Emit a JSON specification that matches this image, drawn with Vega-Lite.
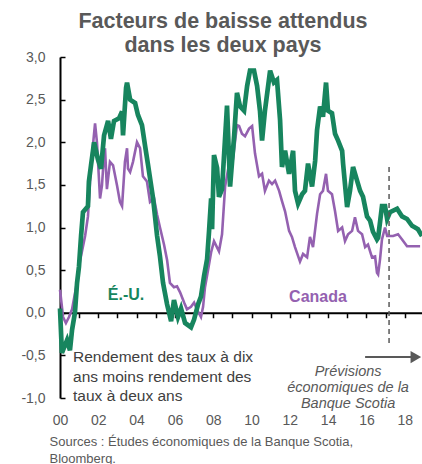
{
  "$schema": "https://vega.github.io/schema/vega-lite/v6.json",
  "autosize": "none",
  "padding": {"left": 60, "top": 57, "right": 0, "bottom": 66},
  "width": 362,
  "height": 341,
  "config": {"view": {"stroke": null}, "font": "Liberation Sans"},
  "title": {"text": ["Facteurs de baisse attendus", "dans les deux pays"], "fontSize": 21.5, "fontWeight": "bold", "color": "#595959", "anchor": "middle", "dx": -18, "offset": -6, "lineHeight": 23.5, "font": "Liberation Sans"},
  "data": {"values": [
    {"year": 2000.00, "spread": 0.05, "country": "US"},
    {"year": 2000.10, "spread": -0.47, "country": "US"},
    {"year": 2000.37, "spread": -0.32, "country": "US"},
    {"year": 2000.52, "spread": -0.44, "country": "US"},
    {"year": 2000.63, "spread": -0.20, "country": "US"},
    {"year": 2000.78, "spread": 0.00, "country": "US"},
    {"year": 2000.89, "spread": 0.35, "country": "US"},
    {"year": 2000.99, "spread": 0.54, "country": "US"},
    {"year": 2001.10, "spread": 0.90, "country": "US"},
    {"year": 2001.20, "spread": 1.18, "country": "US"},
    {"year": 2001.46, "spread": 1.25, "country": "US"},
    {"year": 2001.51, "spread": 1.54, "country": "US"},
    {"year": 2001.62, "spread": 1.73, "country": "US"},
    {"year": 2001.78, "spread": 2.00, "country": "US"},
    {"year": 2001.98, "spread": 1.80, "country": "US"},
    {"year": 2002.14, "spread": 1.69, "country": "US"},
    {"year": 2002.30, "spread": 2.08, "country": "US"},
    {"year": 2002.51, "spread": 2.25, "country": "US"},
    {"year": 2002.66, "spread": 2.04, "country": "US"},
    {"year": 2002.82, "spread": 2.25, "country": "US"},
    {"year": 2003.08, "spread": 2.28, "country": "US"},
    {"year": 2003.24, "spread": 2.36, "country": "US"},
    {"year": 2003.29, "spread": 2.08, "country": "US"},
    {"year": 2003.45, "spread": 2.64, "country": "US"},
    {"year": 2003.50, "spread": 2.70, "country": "US"},
    {"year": 2003.66, "spread": 2.50, "country": "US"},
    {"year": 2003.92, "spread": 2.46, "country": "US"},
    {"year": 2004.07, "spread": 2.32, "country": "US"},
    {"year": 2004.28, "spread": 2.20, "country": "US"},
    {"year": 2004.44, "spread": 1.96, "country": "US"},
    {"year": 2004.60, "spread": 1.73, "country": "US"},
    {"year": 2004.86, "spread": 1.34, "country": "US"},
    {"year": 2005.07, "spread": 0.90, "country": "US"},
    {"year": 2005.22, "spread": 0.66, "country": "US"},
    {"year": 2005.38, "spread": 0.35, "country": "US"},
    {"year": 2005.59, "spread": 0.10, "country": "US"},
    {"year": 2005.80, "spread": -0.10, "country": "US"},
    {"year": 2005.95, "spread": 0.15, "country": "US"},
    {"year": 2006.16, "spread": -0.05, "country": "US"},
    {"year": 2006.32, "spread": 0.05, "country": "US"},
    {"year": 2006.53, "spread": -0.12, "country": "US"},
    {"year": 2006.84, "spread": -0.17, "country": "US"},
    {"year": 2007.00, "spread": -0.08, "country": "US"},
    {"year": 2007.21, "spread": 0.10, "country": "US"},
    {"year": 2007.36, "spread": 0.19, "country": "US"},
    {"year": 2007.52, "spread": 0.43, "country": "US"},
    {"year": 2007.68, "spread": 0.63, "country": "US"},
    {"year": 2007.78, "spread": 0.95, "country": "US"},
    {"year": 2007.89, "spread": 1.34, "country": "US"},
    {"year": 2007.94, "spread": 0.98, "country": "US"},
    {"year": 2008.04, "spread": 1.85, "country": "US"},
    {"year": 2008.20, "spread": 1.70, "country": "US"},
    {"year": 2008.30, "spread": 1.36, "country": "US"},
    {"year": 2008.46, "spread": 1.45, "country": "US"},
    {"year": 2008.72, "spread": 2.43, "country": "US"},
    {"year": 2008.88, "spread": 1.48, "country": "US"},
    {"year": 2009.09, "spread": 2.07, "country": "US"},
    {"year": 2009.24, "spread": 2.58, "country": "US"},
    {"year": 2009.40, "spread": 2.42, "country": "US"},
    {"year": 2009.61, "spread": 2.37, "country": "US"},
    {"year": 2009.77, "spread": 2.66, "country": "US"},
    {"year": 2009.92, "spread": 2.84, "country": "US"},
    {"year": 2010.13, "spread": 2.84, "country": "US"},
    {"year": 2010.29, "spread": 2.66, "country": "US"},
    {"year": 2010.44, "spread": 2.37, "country": "US"},
    {"year": 2010.55, "spread": 2.02, "country": "US"},
    {"year": 2010.70, "spread": 2.37, "country": "US"},
    {"year": 2010.97, "spread": 2.84, "country": "US"},
    {"year": 2011.17, "spread": 2.70, "country": "US"},
    {"year": 2011.33, "spread": 2.73, "country": "US"},
    {"year": 2011.49, "spread": 2.26, "country": "US"},
    {"year": 2011.59, "spread": 1.71, "country": "US"},
    {"year": 2011.75, "spread": 1.90, "country": "US"},
    {"year": 2011.96, "spread": 1.63, "country": "US"},
    {"year": 2012.17, "spread": 1.90, "country": "US"},
    {"year": 2012.27, "spread": 1.43, "country": "US"},
    {"year": 2012.43, "spread": 1.28, "country": "US"},
    {"year": 2012.64, "spread": 1.39, "country": "US"},
    {"year": 2012.79, "spread": 1.43, "country": "US"},
    {"year": 2012.95, "spread": 1.75, "country": "US"},
    {"year": 2013.16, "spread": 1.48, "country": "US"},
    {"year": 2013.32, "spread": 1.78, "country": "US"},
    {"year": 2013.42, "spread": 2.14, "country": "US"},
    {"year": 2013.58, "spread": 2.42, "country": "US"},
    {"year": 2013.73, "spread": 2.30, "country": "US"},
    {"year": 2013.89, "spread": 2.70, "country": "US"},
    {"year": 2013.99, "spread": 2.37, "country": "US"},
    {"year": 2014.20, "spread": 2.34, "country": "US"},
    {"year": 2014.36, "spread": 2.10, "country": "US"},
    {"year": 2014.52, "spread": 2.02, "country": "US"},
    {"year": 2014.73, "spread": 1.90, "country": "US"},
    {"year": 2014.78, "spread": 1.75, "country": "US"},
    {"year": 2014.99, "spread": 1.24, "country": "US"},
    {"year": 2015.14, "spread": 1.43, "country": "US"},
    {"year": 2015.30, "spread": 1.71, "country": "US"},
    {"year": 2015.51, "spread": 1.55, "country": "US"},
    {"year": 2015.67, "spread": 1.43, "country": "US"},
    {"year": 2015.82, "spread": 1.36, "country": "US"},
    {"year": 2016.03, "spread": 1.13, "country": "US"},
    {"year": 2016.19, "spread": 1.08, "country": "US"},
    {"year": 2016.34, "spread": 0.95, "country": "US"},
    {"year": 2016.55, "spread": 0.86, "country": "US"},
    {"year": 2016.61, "spread": 0.88, "country": "US"},
    {"year": 2016.81, "spread": 1.25, "country": "US"},
    {"year": 2016.97, "spread": 1.25, "country": "US"},
    {"year": 2017.08, "spread": 1.10, "country": "US"},
    {"year": 2017.23, "spread": 1.18, "country": "US"},
    {"year": 2017.60, "spread": 1.22, "country": "US"},
    {"year": 2017.86, "spread": 1.13, "country": "US"},
    {"year": 2018.12, "spread": 1.10, "country": "US"},
    {"year": 2018.38, "spread": 1.02, "country": "US"},
    {"year": 2018.54, "spread": 1.00, "country": "US"},
    {"year": 2018.69, "spread": 0.98, "country": "US"},
    {"year": 2018.90, "spread": 0.90, "country": "US"},
    {"year": 2000.00, "spread": 0.27, "country": "Canada"},
    {"year": 2000.16, "spread": -0.05, "country": "Canada"},
    {"year": 2000.31, "spread": -0.12, "country": "Canada"},
    {"year": 2000.47, "spread": -0.05, "country": "Canada"},
    {"year": 2000.63, "spread": 0.04, "country": "Canada"},
    {"year": 2000.84, "spread": 0.30, "country": "Canada"},
    {"year": 2001.04, "spread": 0.60, "country": "Canada"},
    {"year": 2001.31, "spread": 0.90, "country": "Canada"},
    {"year": 2001.46, "spread": 1.13, "country": "Canada"},
    {"year": 2001.62, "spread": 1.73, "country": "Canada"},
    {"year": 2001.83, "spread": 2.22, "country": "Canada"},
    {"year": 2001.93, "spread": 2.00, "country": "Canada"},
    {"year": 2002.09, "spread": 1.34, "country": "Canada"},
    {"year": 2002.19, "spread": 1.49, "country": "Canada"},
    {"year": 2002.25, "spread": 1.69, "country": "Canada"},
    {"year": 2002.35, "spread": 1.93, "country": "Canada"},
    {"year": 2002.45, "spread": 1.45, "country": "Canada"},
    {"year": 2002.61, "spread": 1.77, "country": "Canada"},
    {"year": 2002.77, "spread": 1.73, "country": "Canada"},
    {"year": 2002.98, "spread": 1.49, "country": "Canada"},
    {"year": 2003.13, "spread": 1.30, "country": "Canada"},
    {"year": 2003.24, "spread": 1.25, "country": "Canada"},
    {"year": 2003.39, "spread": 1.77, "country": "Canada"},
    {"year": 2003.50, "spread": 1.93, "country": "Canada"},
    {"year": 2003.55, "spread": 1.69, "country": "Canada"},
    {"year": 2003.66, "spread": 1.65, "country": "Canada"},
    {"year": 2003.81, "spread": 1.77, "country": "Canada"},
    {"year": 2004.02, "spread": 2.00, "country": "Canada"},
    {"year": 2004.18, "spread": 1.93, "country": "Canada"},
    {"year": 2004.33, "spread": 1.60, "country": "Canada"},
    {"year": 2004.54, "spread": 1.54, "country": "Canada"},
    {"year": 2004.70, "spread": 1.30, "country": "Canada"},
    {"year": 2004.91, "spread": 1.34, "country": "Canada"},
    {"year": 2005.07, "spread": 1.15, "country": "Canada"},
    {"year": 2005.22, "spread": 1.00, "country": "Canada"},
    {"year": 2005.43, "spread": 0.80, "country": "Canada"},
    {"year": 2005.59, "spread": 0.62, "country": "Canada"},
    {"year": 2005.74, "spread": 0.35, "country": "Canada"},
    {"year": 2005.95, "spread": 0.30, "country": "Canada"},
    {"year": 2006.11, "spread": 0.31, "country": "Canada"},
    {"year": 2006.27, "spread": 0.24, "country": "Canada"},
    {"year": 2006.48, "spread": 0.12, "country": "Canada"},
    {"year": 2006.63, "spread": 0.04, "country": "Canada"},
    {"year": 2006.84, "spread": 0.07, "country": "Canada"},
    {"year": 2007.00, "spread": 0.12, "country": "Canada"},
    {"year": 2007.15, "spread": 0.04, "country": "Canada"},
    {"year": 2007.36, "spread": -0.05, "country": "Canada"},
    {"year": 2007.47, "spread": 0.07, "country": "Canada"},
    {"year": 2007.57, "spread": 0.30, "country": "Canada"},
    {"year": 2007.73, "spread": 0.50, "country": "Canada"},
    {"year": 2007.89, "spread": 0.71, "country": "Canada"},
    {"year": 2008.04, "spread": 0.84, "country": "Canada"},
    {"year": 2008.30, "spread": 0.72, "country": "Canada"},
    {"year": 2008.46, "spread": 0.92, "country": "Canada"},
    {"year": 2008.62, "spread": 1.48, "country": "Canada"},
    {"year": 2008.83, "spread": 1.75, "country": "Canada"},
    {"year": 2009.03, "spread": 1.80, "country": "Canada"},
    {"year": 2009.24, "spread": 2.20, "country": "Canada"},
    {"year": 2009.35, "spread": 2.19, "country": "Canada"},
    {"year": 2009.50, "spread": 2.10, "country": "Canada"},
    {"year": 2009.66, "spread": 2.07, "country": "Canada"},
    {"year": 2009.87, "spread": 2.16, "country": "Canada"},
    {"year": 2010.03, "spread": 2.19, "country": "Canada"},
    {"year": 2010.18, "spread": 1.87, "country": "Canada"},
    {"year": 2010.39, "spread": 1.60, "country": "Canada"},
    {"year": 2010.55, "spread": 1.63, "country": "Canada"},
    {"year": 2010.70, "spread": 1.43, "country": "Canada"},
    {"year": 2010.91, "spread": 1.55, "country": "Canada"},
    {"year": 2011.07, "spread": 1.51, "country": "Canada"},
    {"year": 2011.23, "spread": 1.55, "country": "Canada"},
    {"year": 2011.44, "spread": 1.43, "country": "Canada"},
    {"year": 2011.59, "spread": 1.31, "country": "Canada"},
    {"year": 2011.75, "spread": 1.19, "country": "Canada"},
    {"year": 2011.96, "spread": 0.96, "country": "Canada"},
    {"year": 2012.11, "spread": 0.89, "country": "Canada"},
    {"year": 2012.27, "spread": 0.77, "country": "Canada"},
    {"year": 2012.53, "spread": 0.60, "country": "Canada"},
    {"year": 2012.69, "spread": 0.69, "country": "Canada"},
    {"year": 2012.90, "spread": 0.65, "country": "Canada"},
    {"year": 2013.05, "spread": 0.89, "country": "Canada"},
    {"year": 2013.21, "spread": 0.77, "country": "Canada"},
    {"year": 2013.42, "spread": 1.16, "country": "Canada"},
    {"year": 2013.58, "spread": 1.39, "country": "Canada"},
    {"year": 2013.73, "spread": 1.43, "country": "Canada"},
    {"year": 2013.89, "spread": 1.63, "country": "Canada"},
    {"year": 2013.99, "spread": 1.43, "country": "Canada"},
    {"year": 2014.20, "spread": 1.39, "country": "Canada"},
    {"year": 2014.36, "spread": 1.19, "country": "Canada"},
    {"year": 2014.52, "spread": 0.96, "country": "Canada"},
    {"year": 2014.73, "spread": 1.00, "country": "Canada"},
    {"year": 2014.88, "spread": 0.84, "country": "Canada"},
    {"year": 2015.04, "spread": 0.92, "country": "Canada"},
    {"year": 2015.25, "spread": 0.96, "country": "Canada"},
    {"year": 2015.40, "spread": 1.12, "country": "Canada"},
    {"year": 2015.56, "spread": 0.96, "country": "Canada"},
    {"year": 2015.77, "spread": 0.92, "country": "Canada"},
    {"year": 2015.93, "spread": 0.77, "country": "Canada"},
    {"year": 2016.08, "spread": 0.80, "country": "Canada"},
    {"year": 2016.29, "spread": 0.65, "country": "Canada"},
    {"year": 2016.45, "spread": 0.66, "country": "Canada"},
    {"year": 2016.55, "spread": 0.47, "country": "Canada"},
    {"year": 2016.61, "spread": 0.45, "country": "Canada"},
    {"year": 2016.71, "spread": 0.63, "country": "Canada"},
    {"year": 2016.81, "spread": 0.86, "country": "Canada"},
    {"year": 2016.97, "spread": 1.00, "country": "Canada"},
    {"year": 2017.08, "spread": 0.90, "country": "Canada"},
    {"year": 2017.39, "spread": 0.90, "country": "Canada"},
    {"year": 2017.65, "spread": 0.92, "country": "Canada"},
    {"year": 2017.86, "spread": 0.86, "country": "Canada"},
    {"year": 2018.12, "spread": 0.78, "country": "Canada"},
    {"year": 2018.80, "spread": 0.78, "country": "Canada"}
  ]},
  "layer": [
    {
      "transform": [{"filter": "datum.country === 'Canada'"}],
      "mark": {"type": "line", "color": "#9461b0", "strokeWidth": 2.6},
      "encoding": {
        "x": {"field": "year", "type": "quantitative",
          "scale": {"domain": [2000, 2018.9], "nice": false, "zero": false},
          "axis": {"orient": "bottom", "values": [2000, 2002, 2004, 2006, 2008, 2010, 2012, 2014, 2016, 2018],
            "labelExpr": "substring(format(datum.value, 'd'), 2)", "domain": false, "ticks": false, "grid": false, "labelFlush": false,
            "labelFontSize": 14, "labelColor": "#595959", "labelPadding": 15, "labelFont": "Liberation Sans",
            "title": ["Sources : Études économiques de la Banque Scotia,", "Bloomberg."],
            "titleAnchor": "start", "titleAlign": "left", "titleX": -11, "titleY": 47, "titleBaseline": "alphabetic",
            "titleFontSize": 13, "titleFontWeight": "normal", "titleColor": "#595959", "titleLineHeight": 17, "titleFont": "Liberation Sans"}},
        "y": {"field": "spread", "type": "quantitative",
          "scale": {"domain": [-1, 3], "nice": false, "zero": false},
          "axis": {"orient": "left", "values": [-1, -0.5, 0, 0.5, 1, 1.5, 2, 2.5, 3],
            "labelExpr": "(datum.value < 0 ? '-' : '') + replace(format(abs(datum.value), '.1f'), '.', ',')",
            "domain": true, "domainColor": "black", "domainWidth": 2, "ticks": true, "tickColor": "black", "tickWidth": 1.5, "tickSize": -5,
            "labelPadding": 20, "labelFontSize": 14, "labelColor": "#595959", "labelFont": "Liberation Sans", "labelFlush": false, "grid": false, "title": null}}
      }
    },
    {
      "transform": [{"filter": "datum.country === 'US'"}],
      "mark": {"type": "line", "color": "#17855e", "strokeWidth": 4.7},
      "encoding": {
        "x": {"field": "year", "type": "quantitative", "axis": null},
        "y": {"field": "spread", "type": "quantitative", "axis": null}
      }
    },
    {
      "data": {"values": [{}]},
      "mark": {"type": "rule", "color": "#595959", "strokeWidth": 1.5, "strokeDash": [5, 4]},
      "encoding": {
        "x": {"datum": 2017.18, "type": "quantitative",
          "axis": {"orient": "bottom", "offset": -85.25, "values": [2000, 2001, 2002, 2003, 2004, 2005, 2006, 2007, 2008, 2009, 2010, 2011, 2012, 2013, 2014, 2015, 2016, 2017, 2018],
            "labels": false, "domain": true, "domainColor": "black", "domainWidth": 2, "ticks": true, "tickColor": "black", "tickWidth": 1.5, "tickSize": 5, "grid": false, "title": null}},
        "y": {"datum": 1.71, "type": "quantitative", "axis": null},
        "y2": {"datum": -0.4}
      }
    },
    {
      "data": {"values": [{}]},
      "mark": {"type": "rule", "color": "#595959", "strokeWidth": 2},
      "encoding": {
        "x": {"datum": 2015.93, "type": "quantitative", "axis": null},
        "x2": {"datum": 2018.4},
        "y": {"datum": -0.52, "type": "quantitative", "axis": null}
      }
    },
    {
      "data": {"values": [{}]},
      "mark": {"type": "point", "shape": "triangle-right", "filled": true, "color": "#595959", "opacity": 1, "size": 150},
      "encoding": {
        "x": {"datum": 2018.58, "type": "quantitative", "axis": null},
        "y": {"datum": -0.52, "type": "quantitative", "axis": null}
      }
    },
    {
      "data": {"values": [{}]},
      "mark": {"type": "text", "align": "left", "baseline": "alphabetic", "fontSize": 15.5, "color": "#404040", "lineHeight": 19.5,
        "text": ["Rendement des taux à dix", "ans moins rendement des", "taux à deux ans"]},
      "encoding": {
        "x": {"datum": 2000.68, "type": "quantitative", "axis": null},
        "y": {"datum": -0.578, "type": "quantitative", "axis": null}
      }
    },
    {
      "data": {"values": [{}]},
      "mark": {"type": "text", "align": "center", "baseline": "middle", "fontSize": 16, "fontWeight": "bold", "color": "#17855e", "text": "É.-U."},
      "encoding": {
        "x": {"datum": 2003.45, "type": "quantitative", "axis": null},
        "y": {"datum": 0.21, "type": "quantitative", "axis": null}
      }
    },
    {
      "data": {"values": [{}]},
      "mark": {"type": "text", "align": "center", "baseline": "middle", "fontSize": 16, "fontWeight": "bold", "color": "#9461b0", "text": "Canada"},
      "encoding": {
        "x": {"datum": 2013.47, "type": "quantitative", "axis": null},
        "y": {"datum": 0.19, "type": "quantitative", "axis": null}
      }
    },
    {
      "data": {"values": [{}]},
      "mark": {"type": "text", "align": "center", "baseline": "alphabetic", "fontSize": 14.5, "fontStyle": "italic", "color": "#595959", "lineHeight": 16,
        "text": ["Prévisions", "économiques de la", "Banque Scotia"]},
      "encoding": {
        "x": {"datum": 2015.04, "type": "quantitative", "axis": null},
        "y": {"datum": -0.745, "type": "quantitative", "axis": null}
      }
    }
  ],
  "resolve": {"axis": {"x": "independent", "y": "independent"}}
}
